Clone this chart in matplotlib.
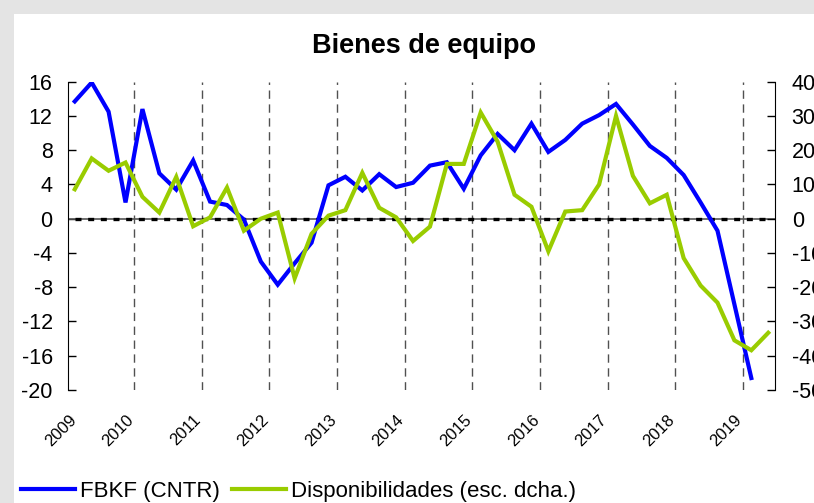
import numpy as np
import matplotlib
matplotlib.use("Agg")
import matplotlib.pyplot as plt
from matplotlib.patches import Rectangle

plt.rcParams['font.family'] = ['Liberation Sans', 'DejaVu Sans']
plt.rcParams['axes.unicode_minus'] = False

# quarterly data, 2009 Q1 onwards
fbkf = [13.7, 15.9, 12.5, 1.9, 12.8, 5.3, 3.4, 6.8, 2.0, 1.6,
        -0.1, -5.0, -7.7, -5.2, -2.8, 3.9, 4.9, 3.3, 5.2, 3.7,
        4.2, 6.2, 6.6, 3.5, 7.4, 9.9, 8.0, 11.1, 7.8, 9.2,
        11.1, 12.1, 13.4, 11.0, 8.5, 7.1, 5.1, 1.9, -1.4, -10.0,
        -18.6]
dispon = [8.6, 17.6, 14.0, 16.4, 6.4, 1.8, 12.2, -2.2, 0.4, 9.1,
          -3.5, 0.0, 1.8, -17.4, -4.4, 0.9, 2.5, 13.4, 3.2, 0.4,
          -6.5, -2.3, 16.0, 16.0, 31.0, 22.5, 7.0, 3.5, -9.5, 2.1,
          2.5, 10.0, 30.0, 12.5, 4.5, 7.0, -11.5, -19.5, -24.5, -35.5,
          -38.4, -33.3]
years = ["2009", "2010", "2011", "2012", "2013", "2014", "2015",
         "2016", "2017", "2018", "2019"]

fig = plt.figure(figsize=(8.14, 5.03), dpi=100)
fig.patch.set_facecolor('#e4e4e4')
fig.patches.append(Rectangle((14/814, 0), 1, 1 - 14/503, transform=fig.transFigure,
                             facecolor='white', edgecolor='none', zorder=-5))

ax = fig.add_axes([68/814, 1 - 390/503, 707/814, (390 - 81.7)/503])
ax.set_facecolor('none')
ax2 = ax.twinx()

x1 = np.arange(len(fbkf))
x2 = np.arange(len(dispon))

# year separators
for k in range(len(years) - 1):
    ax.axvline(k*4 + 3.5, color='#505050', lw=1.0, ls=(0, (6, 4)), zorder=1)

ax.axhline(0, color='#555555', lw=1.2, zorder=2)
ax.plot(x2, np.zeros(len(x2)), color='black', lw=2.4, ls=(0, (1.8, 2.0)), zorder=3)

ln1, = ax.plot(x1, fbkf, color='#0000ff', lw=3, zorder=4, solid_joinstyle='miter')
ln2, = ax2.plot(x2, dispon, color='#99cc00', lw=3, zorder=5, solid_joinstyle='miter')

# year labels sit just left of each year boundary (first one clipped to the axis start)
tick_pos = [max(k*4 - 1.0, -0.35) for k in range(len(years))]
ax.set_xticks(tick_pos)
ax.set_xticklabels(years, rotation=45, ha='right', va='top', rotation_mode='anchor', fontsize=12)
ax.tick_params(axis='x', length=0, pad=16)
ax.set_xlim(-0.4, 41.4)

ax.set_ylim(-20, 16)
ax.set_yticks(np.arange(-20, 17, 4))
ax2.set_ylim(-50, 40)
ax2.set_yticks(np.arange(-50, 41, 10))

ax.tick_params(axis='y', direction='in', length=6, width=1, labelsize=15.5, pad=11)
ax2.tick_params(axis='y', direction='in', length=6, width=1, labelsize=15.5, pad=12)

for a in (ax, ax2):
    a.spines['top'].set_visible(False)
    a.spines['bottom'].set_visible(False)
ax.spines['right'].set_visible(False)
ax2.spines['left'].set_visible(False)

fig.text(424/814, 1 - 53/503, "Bienes de equipo", ha='center', va='baseline',
         fontsize=19.5, fontweight='bold')

fig.legend([ln1, ln2], ["FBKF (CNTR)", "Disponibilidades (esc. dcha.)"],
           loc='center left', bbox_to_anchor=(21/814, 1 - 491/503), ncol=2,
           frameon=False, fontsize=16, handlelength=2.45, handletextpad=0.2,
           columnspacing=0.55, borderaxespad=0, borderpad=0)

fig.savefig("out.png", dpi=100)
